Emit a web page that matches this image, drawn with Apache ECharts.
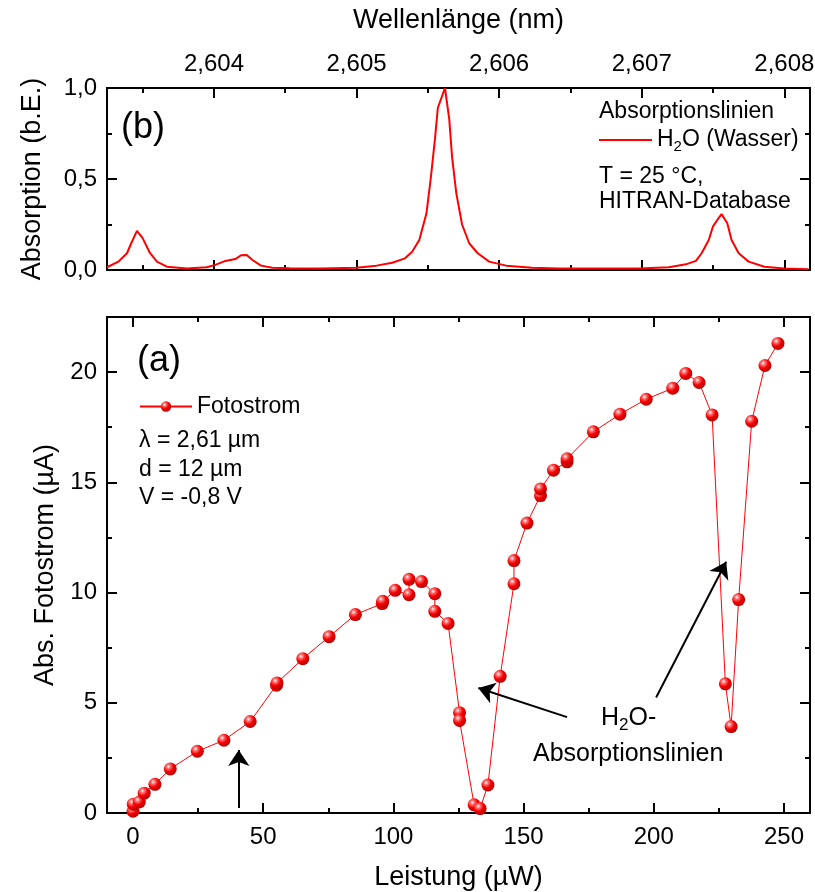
<!DOCTYPE html>
<html>
<head>
<meta charset="utf-8">
<script src="https://cdn.jsdelivr.net/npm/echarts@6/dist/echarts.min.js"></script>
<style>
  html, body { margin: 0; padding: 0; background: #fff; }
  #chart { width: 815px; height: 892px; }
</style>
</head>
<body>
<div id="chart"></div>
<script>
// ---- Panel (a): photocurrent vs. optical power ----
const powerUW = [0, 0.1, 2.4, 4.3, 8.4, 14.3, 24.7, 34.9, 45.0, 55.1, 55.3, 65.2, 75.3, 85.4, 95.7, 95.9,
  100.7, 106.0, 106.0, 110.8, 115.9, 115.9, 121.0, 125.4, 125.4, 131.0, 133.3, 136.3, 141.0, 146.3, 146.3,
  151.3, 156.5, 156.5, 161.5, 166.7, 166.7, 176.8, 187.0, 197.1, 207.3, 212.3, 217.4, 222.4, 227.5, 229.7,
  232.6, 237.6, 242.7, 247.7];
const photocurrentUA = [0.08, 0.4, 0.5, 0.9, 1.3, 2.0, 2.8, 3.3, 4.15, 5.8, 5.9, 7.0, 8.0, 9.0, 9.5, 9.6,
  10.1, 9.9, 10.6, 10.5, 9.95, 9.15, 8.6, 4.55, 4.2, 0.37, 0.2, 1.27, 6.2, 10.4, 11.45,
  13.15, 14.4, 14.7, 15.55, 15.93, 16.07, 17.29, 18.09, 18.77, 19.27, 19.94, 19.53, 18.06, 5.86, 3.92,
  9.68, 17.77, 20.3, 21.3];

// ---- Panel (b): H2O absorption lines (HITRAN, 25 °C) ----
const wavelengthUM = [2.60325, 2.60333, 2.60339, 2.60342, 2.60346, 2.60350, 2.60355, 2.60360, 2.60367,
  2.60381, 2.60395, 2.60401, 2.60408, 2.60415, 2.60419, 2.60423, 2.60427, 2.60433, 2.60441, 2.60453,
  2.60474, 2.60500, 2.60514, 2.60525, 2.60534, 2.60539, 2.60544, 2.60549, 2.60552, 2.60555, 2.60557,
  2.60562, 2.60565, 2.60567, 2.60570, 2.60574, 2.60579, 2.60585, 2.60593, 2.60605, 2.60623, 2.60642,
  2.60698, 2.60719, 2.60731, 2.60738, 2.60742, 2.60747, 2.60750, 2.60753, 2.60756, 2.60760, 2.60763,
  2.60768, 2.60775, 2.60786, 2.60800, 2.60817];
const absorption = [0.015, 0.046, 0.092, 0.147, 0.215, 0.175, 0.095, 0.046, 0.018,
  0.008, 0.015, 0.028, 0.050, 0.060, 0.081, 0.083, 0.055, 0.024, 0.012, 0.010,
  0.008, 0.013, 0.024, 0.040, 0.064, 0.100, 0.165, 0.310, 0.500, 0.720, 0.890,
  1.000, 0.830, 0.620, 0.420, 0.250, 0.147, 0.092, 0.046, 0.024, 0.012, 0.008,
  0.008, 0.015, 0.031, 0.050, 0.092, 0.165, 0.240, 0.275, 0.307, 0.257, 0.165,
  0.092, 0.046, 0.018, 0.008, 0.004];

// axis ranges
const powerRange = [-10, 260];
const currentRange = [0, 22.5];
const wavelengthRange = [2.60325, 2.60818];
const absorptionRange = [0, 1];

// arrows pointing at the absorption dips, in (µW, µA)
const arrowSegments = [
  [[40.6, 0.23], [40.6, 2.86]],
  [[166.7, 4.35], [132.6, 5.67]],
  [[200.9, 5.24], [227.8, 11.4]]
];

const FONT = '"Liberation Sans", Arial, Helvetica, sans-serif';
const RED = '#ff0000';

const comma = (v, d) => v.toFixed(d).replace('.', ',');

function frameAxis(extra) {
  const base = {
    type: 'value',
    axisLine: { show: true, onZero: false, lineStyle: { color: '#000', width: 2 } },
    axisTick: { show: true, inside: true, length: 10, lineStyle: { color: '#000', width: 2 } },
    minorTick: { show: true, splitNumber: 2, length: 5, lineStyle: { color: '#000', width: 2 } },
    splitLine: { show: false },
    minorSplitLine: { show: false },
    axisLabel: { show: false }
  };
  return Object.assign(base, extra);
}

function tickLabels(extra) {
  return Object.assign({
    show: true, color: '#000', fontSize: 24, fontFamily: FONT,
    showMinLabel: false, showMaxLabel: false
  }, extra);
}

const sphere = {
  type: 'radial', x: 0.36, y: 0.32, r: 0.72,
  colorStops: [
    { offset: 0, color: '#ffffff' },
    { offset: 0.22, color: '#ff7070' },
    { offset: 0.55, color: '#f40000' },
    { offset: 1, color: '#b00000' }
  ]
};

const nameStyle = { color: '#000', fontSize: 27, fontFamily: FONT };
const textStyle = (size) => ({ fontSize: size, fontFamily: FONT, fill: '#000' });

const chart = echarts.init(document.getElementById('chart'), null, { renderer: 'canvas' });

chart.setOption({
  animation: false,
  backgroundColor: '#fff',
  grid: [
    { left: 107, right: 5, top: 88, height: 182, containLabel: false, outerBoundsMode: 'none' },
    { left: 107, right: 5, top: 317, height: 496, containLabel: false, outerBoundsMode: 'none' }
  ],
  xAxis: [
    frameAxis({
      gridIndex: 0, position: 'top', min: wavelengthRange[0], max: wavelengthRange[1],
      name: 'Wellenlänge (nm)', nameLocation: 'middle', nameGap: 54, nameTextStyle: nameStyle,
      axisLabel: tickLabels({ margin: 12, formatter: (v) => comma(v, 3) })
    }),
    frameAxis({ gridIndex: 0, position: 'bottom', min: wavelengthRange[0], max: wavelengthRange[1] }),
    frameAxis({
      gridIndex: 1, position: 'bottom', min: powerRange[0], max: powerRange[1],
      name: 'Leistung (µW)', nameLocation: 'middle', nameGap: 51, nameTextStyle: nameStyle,
      axisLabel: tickLabels({ margin: 12 })
    }),
    frameAxis({ gridIndex: 1, position: 'top', min: powerRange[0], max: powerRange[1] })
  ],
  yAxis: [
    frameAxis({
      gridIndex: 0, position: 'left', min: absorptionRange[0], max: absorptionRange[1], interval: 0.5,
      name: 'Absorption (b.E.)', nameLocation: 'middle', nameGap: 61, nameTextStyle: nameStyle,
      axisLabel: tickLabels({ margin: 10, showMinLabel: true, showMaxLabel: true, formatter: (v) => comma(v, 1) })
    }),
    frameAxis({ gridIndex: 0, position: 'right', min: absorptionRange[0], max: absorptionRange[1], interval: 0.5 }),
    frameAxis({
      gridIndex: 1, position: 'left', min: currentRange[0], max: currentRange[1], interval: 5,
      name: 'Abs. Fotostrom (µA)', nameLocation: 'middle', nameGap: 48, nameTextStyle: nameStyle,
      axisLabel: tickLabels({ margin: 10, showMinLabel: true })
    }),
    frameAxis({ gridIndex: 1, position: 'right', min: currentRange[0], max: currentRange[1], interval: 5 })
  ],
  legend: [
    {
      data: ['Fotostrom'], left: 139, top: 395, padding: 0, itemGap: 0,
      itemWidth: 52, itemHeight: 13, selectedMode: false,
      textStyle: { color: '#000', fontSize: 23, fontFamily: FONT }
    },
    {
      data: [{ name: 'H2O (Wasser)', icon: 'rect' }], left: 599, top: 126, padding: 0, itemGap: 0,
      itemWidth: 53, itemHeight: 2, selectedMode: false,
      formatter: () => '{n|H}{s|2}{n|O (Wasser)}',
      textStyle: {
        color: '#000', fontSize: 23, fontFamily: FONT,
        rich: {
          n: { fontSize: 23, fontFamily: FONT, color: '#000', lineHeight: 28 },
          s: { fontSize: 15, fontFamily: FONT, color: '#000', lineHeight: 15, padding: [13, 0, 0, 0] }
        }
      }
    }
  ],
  series: [
    {
      type: 'line', name: 'H2O (Wasser)', xAxisIndex: 0, yAxisIndex: 0,
      data: wavelengthUM.map((w, i) => [w, absorption[i]]),
      symbol: 'none', smooth: false,
      lineStyle: { color: RED, width: 2 }, itemStyle: { color: RED }
    },
    {
      type: 'line', name: 'Fotostrom', xAxisIndex: 2, yAxisIndex: 2,
      data: powerUW.map((p, i) => [p, photocurrentUA[i]]),
      symbol: 'circle', symbolSize: 13, showAllSymbol: true,
      lineStyle: { color: RED, width: 1 }, itemStyle: { color: sphere },
      markLine: {
        silent: true, symbol: ['none', 'arrow'], symbolSize: 16,
        label: { show: false },
        lineStyle: { color: '#000', width: 2, type: 'solid' },
        emphasis: { disabled: true },
        data: arrowSegments.map(([a, b]) => [{ coord: a }, { coord: b }])
      }
    }
  ],
  graphic: [
    { type: 'text', x: 121, y: 128, style: Object.assign(textStyle(36), { text: '(b)', verticalAlign: 'middle' }) },
    { type: 'text', x: 137, y: 361, style: Object.assign(textStyle(36), { text: '(a)', verticalAlign: 'middle' }) },
    { type: 'text', x: 599, y: 112, style: Object.assign(textStyle(23), { text: 'Absorptionslinien', verticalAlign: 'middle' }) },
    { type: 'text', x: 599, y: 177, style: Object.assign(textStyle(23), { text: 'T = 25 °C,', verticalAlign: 'middle' }) },
    { type: 'text', x: 599, y: 202, style: Object.assign(textStyle(23), { text: 'HITRAN-Database', verticalAlign: 'middle' }) },
    { type: 'text', x: 139, y: 441, style: Object.assign(textStyle(23), { text: 'λ = 2,61 µm', verticalAlign: 'middle' }) },
    { type: 'text', x: 139, y: 470, style: Object.assign(textStyle(23), { text: 'd = 12 µm', verticalAlign: 'middle' }) },
    { type: 'text', x: 139, y: 498, style: Object.assign(textStyle(23), { text: 'V = -0,8 V', verticalAlign: 'middle' }) },
    {
      type: 'text', x: 601, y: 718,
      style: Object.assign(textStyle(25), {
        text: '{n|H}{s|2}{n|O-}', verticalAlign: 'middle',
        rich: {
          n: { fontSize: 25, fontFamily: FONT, fill: '#000', lineHeight: 30 },
          s: { fontSize: 17, fontFamily: FONT, fill: '#000', lineHeight: 17, padding: [14, 0, 0, 0] }
        }
      })
    },
    { type: 'text', x: 533, y: 754, style: Object.assign(textStyle(25), { text: 'Absorptionslinien', verticalAlign: 'middle' }) }
  ]
});
</script>
</body>
</html>
